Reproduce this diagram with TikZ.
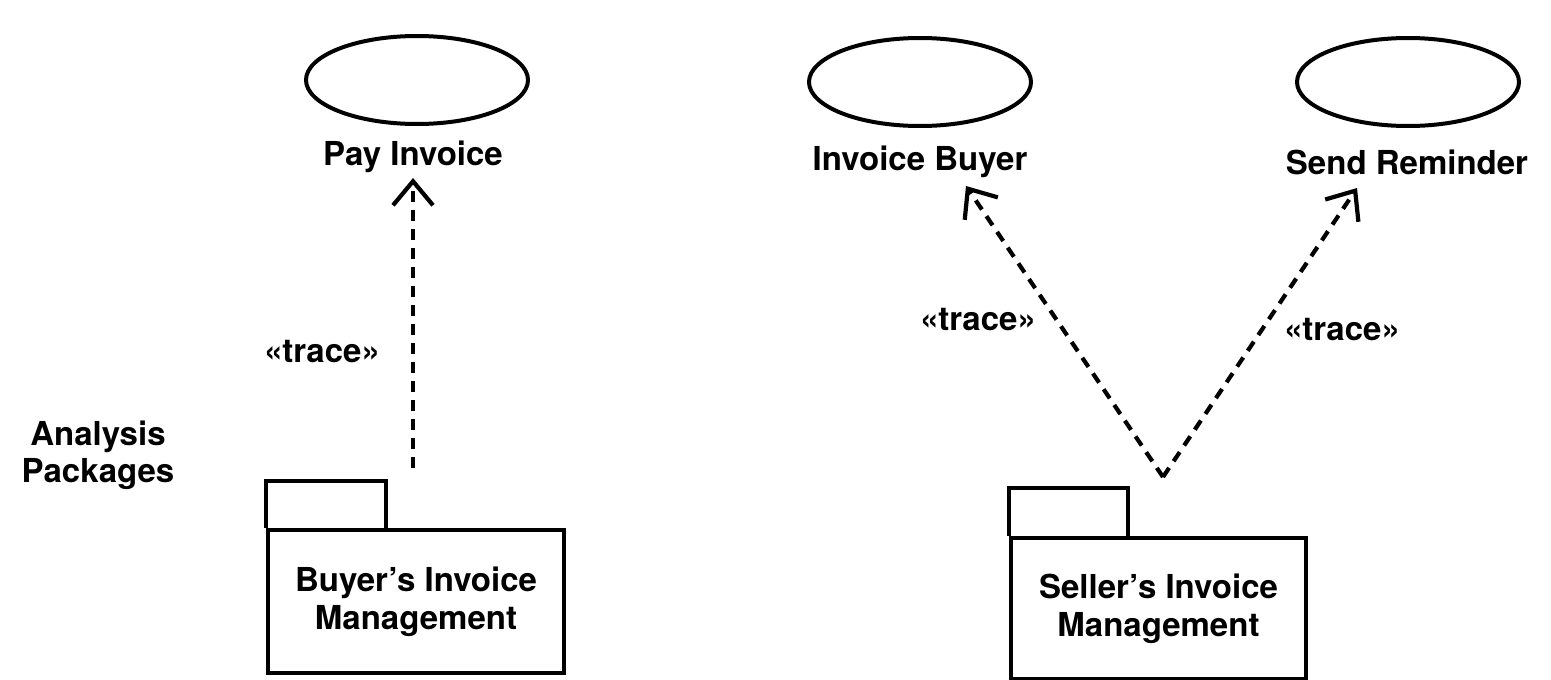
\documentclass[tikz,border=0pt]{standalone}
\usepackage{fontspec}
\setmainfont{TeX Gyre Heros}
\usetikzlibrary{shapes.geometric,arrows.meta}
\tikzset{
  usecase/.style={ellipse, draw, line width=4pt, minimum width=222pt, minimum height=88pt, inner sep=0pt},
  lbl/.style={font=\fontsize{33}{37}\selectfont\bfseries, inner sep=0pt, align=center},
  pkgbody/.style={draw, line width=3.6pt, inner sep=0pt, font=\fontsize{33}{38}\selectfont\bfseries, align=center},
  pkgtab/.style={draw, line width=3.6pt},
  tracearrow/.style={line width=4.2pt, dash pattern=on 11pt off 8pt, -{Straight Barb[length=24pt, width=40pt, line width=4.2pt]}},
}
\begin{document}
\begin{tikzpicture}[x=1pt,y=-1pt]
\useasboundingbox (0,0) rectangle (1551,680);
% use cases
\node[usecase] (uc1) at (417,80) {};
\node[usecase] (uc2) at (920,82) {};
\node[usecase] (uc3) at (1408,82) {};
\node[lbl] (l1) at (413,157) {Pay Invoice};
\node[lbl] (l2) at (920,162) {Invoice Buyer};
\node[lbl] (l3) at (1407,162) {Send Reminder};
% side label
\node[lbl] (ap) at (98,455) {Analysis\\Packages};
% packages
\node[pkgbody, minimum width=296pt, minimum height=143pt] (p1) at (416,601.5) {Buyer’s Invoice\\Management};
\draw[pkgtab] (p1.north west) -- ++(0,-47) -- ++(120,0) -- ++(0,47);
\node[pkgbody, minimum width=295pt, minimum height=141pt] (p2) at (1158.5,608.5) {Seller’s Invoice\\Management};
\draw[pkgtab] (p2.north west) -- ++(0,-48) -- ++(119,0) -- ++(0,48);
% trace arrows
\coordinate (s1) at (413,468);
\coordinate (t1) at (413,178);
\coordinate (s2) at (1163,477);
\coordinate (t2) at (966,186);
\coordinate (t3) at (1357,188);
\draw[tracearrow] (s1) -- (t1);
\draw[tracearrow] (s2) -- (t2);
\draw[tracearrow] (s2) -- (t3);
\node[lbl] (tr1) at (322,352) {«trace»};
\node[lbl] (tr2) at (978,320) {«trace»};
\node[lbl] (tr3) at (1342,330) {«trace»};
\end{tikzpicture}
\end{document}
